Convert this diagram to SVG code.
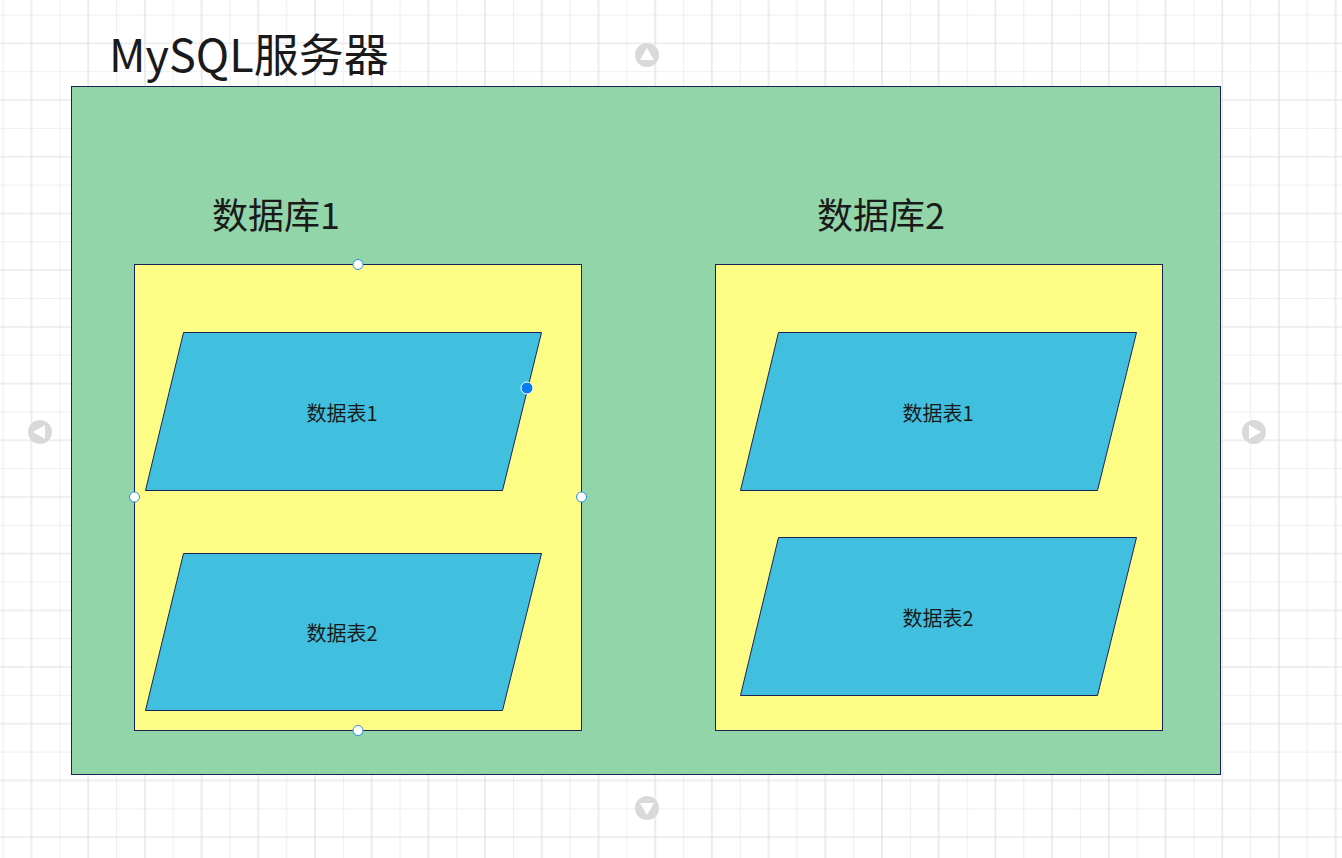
<svg xmlns="http://www.w3.org/2000/svg" width="1342" height="858" viewBox="0 0 1342 858">
<style>
.t{font-family:"Noto Sans CJK SC","Noto Sans",sans-serif;fill:#1a1a1a}
.box{stroke:#1b2356;stroke-width:1}
.tbl{fill:#40c0de;stroke:#1b2356;stroke-width:1}
.h{fill:#fff;stroke:#2a8cf0;stroke-width:1}
.nav{fill:#d9d9d9}
.tri{fill:#fff}
</style>
<defs>
<pattern id="grid" patternUnits="userSpaceOnUse" x="2.65" y="14.5" width="56.7" height="56.7">
<path d="M0.5 0V56.7M0 0.5H56.7" stroke="#efefef" stroke-width="1.2" fill="none"/>
<path d="M28.85 0V56.7M0 28.85H56.7" stroke="#e0e0e0" stroke-width="1.2" fill="none"/>
</pattern>
</defs>
<rect width="1342" height="858" fill="#fff"/>
<rect width="1342" height="858" fill="url(#grid)"/>
<g id="server">
<rect class="box" x="71.5" y="86.5" width="1149" height="688" fill="#92d5a9"/>
<text class="t" x="109" y="72" font-size="45">MySQL服务器</text>
</g>
<g id="db1">
<rect class="box" x="134.5" y="264.5" width="447" height="466" fill="#fdfd86"/>
<text class="t" x="212" y="229" font-size="36">数据库1</text>
</g>
<g id="db2">
<rect class="box" x="715.5" y="264.5" width="447" height="466" fill="#fdfd86"/>
<text class="t" x="817" y="229" font-size="36">数据库2</text>
</g>
<g id="db1-t1">
<polygon class="tbl" points="183.5,332.5 541.5,332.5 502.5,490.5 145.5,490.5"/>
<text class="t" x="342" y="421" font-size="20" text-anchor="middle">数据表1</text>
</g>
<g id="db1-t2">
<polygon class="tbl" points="183.5,553.5 541.5,553.5 502.5,710.5 145.5,710.5"/>
<text class="t" x="342" y="641" font-size="20" text-anchor="middle">数据表2</text>
</g>
<g id="db2-t1">
<polygon class="tbl" points="778.5,332.5 1136.5,332.5 1097.5,490.5 740.5,490.5"/>
<text class="t" x="938" y="421" font-size="20" text-anchor="middle">数据表1</text>
</g>
<g id="db2-t2">
<polygon class="tbl" points="778.5,537.5 1136.5,537.5 1097.5,695.5 740.5,695.5"/>
<text class="t" x="938" y="626" font-size="20" text-anchor="middle">数据表2</text>
</g>
<g id="connectors"></g>
<g id="handles">
<circle class="h" cx="358" cy="264.5" r="5"/>
<circle class="h" cx="134.5" cy="497" r="5"/>
<circle class="h" cx="581.5" cy="497" r="5"/>
<circle class="h" cx="358" cy="730.5" r="5"/>
<circle cx="527" cy="388" r="6" fill="#0a7cf0" stroke="#fff" stroke-width="1"/>
</g>
<g id="nav">
<circle class="nav" cx="647" cy="55" r="12"/>
<polygon class="tri" points="647,48 654,60 640,60"/>
<circle class="nav" cx="40" cy="432" r="12"/>
<polygon class="tri" points="33,432 45,425 45,439"/>
<circle class="nav" cx="1254" cy="432" r="12"/>
<polygon class="tri" points="1261,432 1249,425 1249,439"/>
<circle class="nav" cx="647" cy="808" r="12"/>
<polygon class="tri" points="647,815 654,803 640,803"/>
</g>
</svg>
